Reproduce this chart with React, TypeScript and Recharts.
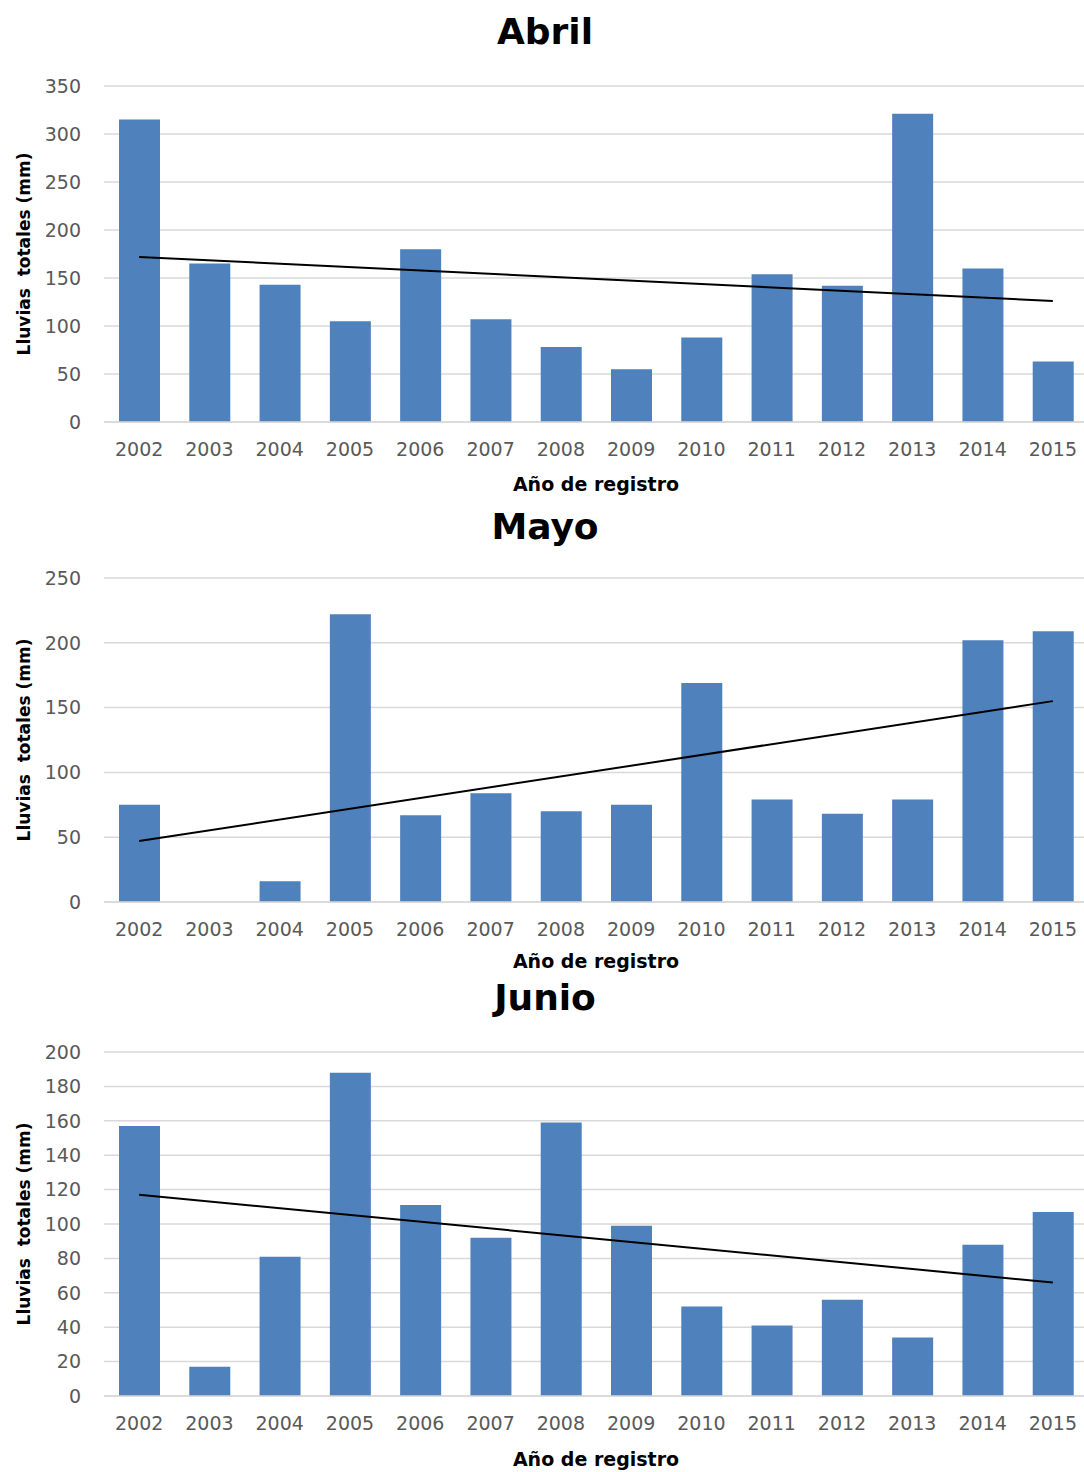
import React from 'react';
import { ComposedChart, Bar, Line, XAxis, YAxis, CartesianGrid } from 'recharts';

const years = ['2002', '2003', '2004', '2005', '2006', '2007', '2008', '2009', '2010', '2011', '2012', '2013', '2014', '2015'];

const abril = [315, 165, 143, 105, 180, 107, 78, 55, 88, 154, 142, 321, 160, 63];
const mayo = [75, 0, 16, 222, 67, 84, 70, 75, 169, 79, 68, 79, 202, 209];
const junio = [157, 17, 81, 188, 111, 92, 159, 99, 52, 41, 56, 34, 88, 107];

// trend line end points (first year, last year)
const abrilTrend = [172, 126];
const mayoTrend = [47, 155];
const junioTrend = [117, 66];

const abrilTicks = [0, 50, 100, 150, 200, 250, 300, 350];
const mayoTicks = [0, 50, 100, 150, 200, 250];
const junioTicks = [0, 20, 40, 60, 80, 100, 120, 140, 160, 180, 200];

const BAR = '#4F81BD';
const GRID = '#d9d9d9';
const TICK = '#595959';
const LABEL_FONT = '"DejaVu Sans", sans-serif';

const buildRows = (values: number[], trend: number[]) =>
  years.map((year, i) => ({
    year,
    value: values[i],
    trend: i === 0 ? trend[0] : i === years.length - 1 ? trend[1] : null,
  }));

interface PanelProps {
  title: string;
  values: number[];
  trend: number[];
  ticks: number[];
  top: number; // chart box top
  height: number; // chart box height
  plotTop: number; // plot area top inside page
  plotBottom: number; // plot area bottom inside page
  titleY: number;
  xLabelY: number;
}

const Panel = ({ title, values, trend, ticks, top, height, plotTop, plotBottom, titleY, xLabelY }: PanelProps) => {
  const data = buildRows(values, trend);
  const tickStyle = { fill: TICK, fontSize: 19, fontFamily: LABEL_FONT };
  return (
    <>
      <div
        style={{
          position: 'absolute',
          left: 0,
          width: 1090,
          top: titleY - 22,
          height: 44,
          lineHeight: '44px',
          textAlign: 'center',
          fontFamily: LABEL_FONT,
          fontWeight: 'bold',
          fontSize: 36,
          color: '#000',
        }}
      >
        {title}
      </div>
      <div style={{ position: 'absolute', left: 0, top }}>
        <ComposedChart
          width={1088}
          height={height}
          data={data}
          margin={{ top: plotTop - top, right: 0, bottom: 0, left: 0 }}
        >
          <CartesianGrid vertical={false} stroke={GRID} strokeWidth={1.5} />
          <XAxis
            dataKey="year"
            height={top + height - plotBottom}
            tickLine={false}
            tickSize={0}
            tickMargin={21}
            axisLine={{ stroke: GRID, strokeWidth: 1.5 }}
            tick={tickStyle}
            interval={0}
          />
          <YAxis
            width={104}
            domain={[ticks[0], ticks[ticks.length - 1]]}
            ticks={ticks}
            tickLine={false}
            tickSize={0}
            tickMargin={23}
            axisLine={false}
            tick={tickStyle}
            interval={0}
          />
          <Bar dataKey="value" fill={BAR} barSize={41} isAnimationActive={false} />
          <Line
            dataKey="trend"
            stroke="#000"
            strokeWidth={2}
            dot={false}
            connectNulls
            isAnimationActive={false}
          />
        </ComposedChart>
      </div>
      <div
        style={{
          position: 'absolute',
          left: 104,
          width: 984,
          top: xLabelY - 13,
          height: 26,
          lineHeight: '26px',
          textAlign: 'center',
          fontFamily: LABEL_FONT,
          fontWeight: 'bold',
          fontSize: 19,
          color: '#000',
        }}
      >
        Año de registro
      </div>
      <div
        style={{
          position: 'absolute',
          left: 24,
          top: (plotTop + plotBottom) / 2,
          transform: 'translate(-50%, -50%) rotate(-90deg)',
          whiteSpace: 'pre',
          fontFamily: LABEL_FONT,
          fontWeight: 'bold',
          fontSize: 17,
          color: '#000',
        }}
      >
        {'Lluvias  totales (mm)'}
      </div>
    </>
  );
};

export default function App() {
  return (
    <div style={{ position: 'relative', width: 1084, height: 1472, background: '#fff', overflow: 'hidden' }}>
      <style>{'body{margin:0;background:#fff;overflow:hidden}'}</style>
      <Panel title="Abril" values={abril} trend={abrilTrend} ticks={abrilTicks}
        top={0} height={500} plotTop={86} plotBottom={422} titleY={32} xLabelY={484} />
      <Panel title="Mayo" values={mayo} trend={mayoTrend} ticks={mayoTicks}
        top={500} height={480} plotTop={578} plotBottom={902} titleY={527} xLabelY={961} />
      <Panel title="Junio" values={junio} trend={junioTrend} ticks={junioTicks}
        top={980} height={492} plotTop={1052} plotBottom={1396} titleY={998} xLabelY={1459} />
    </div>
  );
}
